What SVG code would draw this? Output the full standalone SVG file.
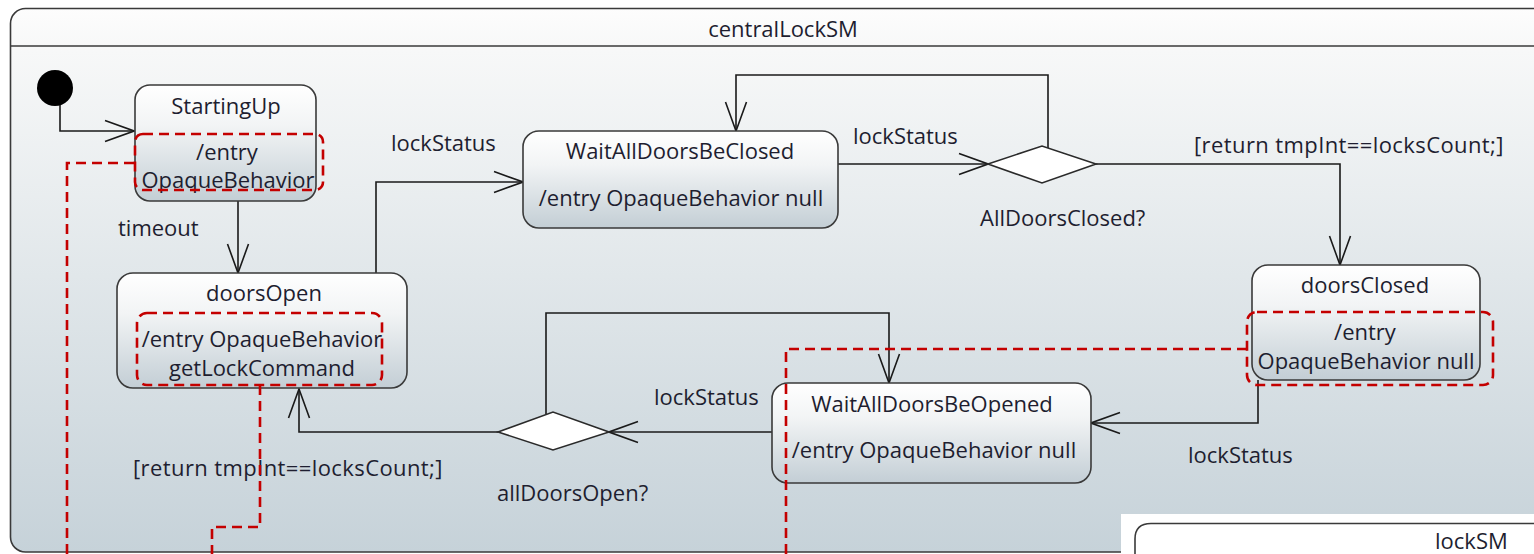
<svg xmlns="http://www.w3.org/2000/svg" width="1534" height="554" viewBox="0 0 1534 554">
<style>
text{font-family:"Open Sans","Liberation Sans",sans-serif;font-size:22px;fill:#1e1e30}
.c{text-anchor:middle}
.node{fill:url(#nodeGrad);stroke:#3a3a3a;stroke-width:1.6}
.dia{fill:#fff;stroke:#2a2a2a;stroke-width:1.6}
.edge{fill:none;stroke:#1a1a1a;stroke-width:1.6}
.red{fill:none;stroke:#c40000;stroke-width:2.6;stroke-dasharray:10 6}
</style>
<defs>
<linearGradient id="frameGrad" gradientUnits="userSpaceOnUse" x1="0" y1="8" x2="0" y2="552">
<stop offset="0" stop-color="#fdfdfd"/>
<stop offset="0.08" stop-color="#f7f8f8"/>
<stop offset="1" stop-color="#c6d2d9"/>
</linearGradient>
<linearGradient id="nodeGrad" x1="0" y1="0" x2="0" y2="1">
<stop offset="0" stop-color="#ffffff"/>
<stop offset="0.35" stop-color="#f2f4f5"/>
<stop offset="1" stop-color="#c3ced5"/>
</linearGradient>
<marker id="arr" markerUnits="userSpaceOnUse" markerWidth="32" markerHeight="26" viewBox="0 0 32 26" refX="30" refY="13" orient="auto">
<path d="M1,2.5 L30,13 L1,23.5" fill="none" stroke="#1a1a1a" stroke-width="1.6"/>
</marker>
</defs>

<g id="frame">
<rect x="10.5" y="8.5" width="1600" height="543.5" rx="15" fill="url(#frameGrad)" stroke="#3a3a3a" stroke-width="1.6"/>
<line x1="10.5" y1="46" x2="1534" y2="46" stroke="#3a3a3a" stroke-width="1.6"/>
<text class="c" x="783" y="37">centralLockSM</text>
</g>

<g id="connectors">
<path class="edge" d="M60,104 V131 H134" marker-end="url(#arr)"/>
<path class="edge" d="M238,201 V273" marker-end="url(#arr)"/>
<path class="edge" d="M376,273 V182 H523" marker-end="url(#arr)"/>
<path class="edge" d="M838,164 H988" marker-end="url(#arr)"/>
<path class="edge" d="M1048,148 V75 H736 V131" marker-end="url(#arr)"/>
<path class="edge" d="M1096,164 H1340 V265" marker-end="url(#arr)"/>
<path class="edge" d="M1258,380 V423 H1091" marker-end="url(#arr)"/>
<path class="edge" d="M772,432 H609" marker-end="url(#arr)"/>
<path class="edge" d="M546,414 V313 H889 V383" marker-end="url(#arr)"/>
<path class="edge" d="M498,432 H299 V389" marker-end="url(#arr)"/>
<text x="118" y="236">timeout</text>
<text x="391" y="151">lockStatus</text>
<text x="853" y="144">lockStatus</text>
<text x="1194" y="153" letter-spacing="0.4">[return tmpInt==locksCount;]</text>
<text x="1188" y="463">lockStatus</text>
<text x="654" y="405">lockStatus</text>
<text x="133" y="476" letter-spacing="0.4">[return tmpInt==locksCount;]</text>
</g>

<g id="initial">
<circle cx="55" cy="88" r="18" fill="#000"/>
</g>

<g id="StartingUp">
<rect class="node" x="135" y="85" width="181" height="116" rx="15"/>
<text class="c" x="226" y="114">StartingUp</text>
<text class="c" x="227" y="160">/entry</text>
<text class="c" x="228" y="188">OpaqueBehavior</text>
</g>

<g id="doorsOpen">
<rect class="node" x="117" y="273" width="290" height="115" rx="16"/>
<text class="c" x="264" y="301">doorsOpen</text>
<text class="c" x="262" y="347">/entry OpaqueBehavior</text>
<text class="c" x="262" y="376">getLockCommand</text>
</g>

<g id="WaitAllDoorsBeClosed">
<rect class="node" x="523" y="131" width="315" height="97" rx="16"/>
<text class="c" x="680" y="159">WaitAllDoorsBeClosed</text>
<text class="c" x="681" y="206">/entry OpaqueBehavior null</text>
</g>

<g id="AllDoorsClosed">
<polygon class="dia" points="988,164 1042,146 1096,164 1042,183"/>
<text x="980" y="226">AllDoorsClosed?</text>
</g>

<g id="doorsClosed">
<rect class="node" x="1252" y="265" width="228" height="115" rx="16"/>
<text class="c" x="1365" y="293">doorsClosed</text>
<text class="c" x="1365" y="340">/entry</text>
<text class="c" x="1366" y="369">OpaqueBehavior null</text>
</g>

<g id="WaitAllDoorsBeOpened">
<rect class="node" x="772" y="383" width="319" height="100" rx="16"/>
<text class="c" x="932" y="412">WaitAllDoorsBeOpened</text>
<text class="c" x="934" y="458">/entry OpaqueBehavior null</text>
</g>

<g id="allDoorsOpen">
<polygon class="dia" points="498,432 553,412 609,432 553,450"/>
<text x="497" y="501">allDoorsOpen?</text>
</g>

<g id="highlights">
<rect class="red" x="135" y="134" width="188" height="56" rx="8"/>
<path class="red" d="M67,554 V163 H135"/>
<rect class="red" x="137" y="313" width="245" height="72" rx="10"/>
<path class="red" d="M260,385 V527 H212 V554"/>
<rect class="red" x="1247" y="312" width="246" height="73" rx="10"/>
<path class="red" d="M1247,349 H786 V554"/>
</g>

<g id="lockSM">
<rect x="1121" y="514" width="413" height="40" fill="#ffffff"/>
<path d="M1135,554 V539 Q1135,523.5 1151,523.5 H1534" fill="none" stroke="#3a3a3a" stroke-width="1.6"/>
<text x="1435" y="549">lockSM</text>
</g>
</svg>
